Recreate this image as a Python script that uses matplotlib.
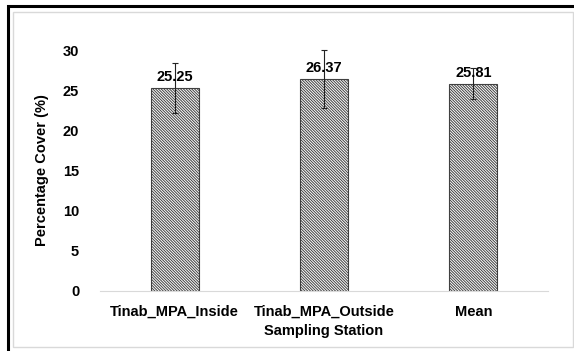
import matplotlib
matplotlib.use('Agg')
import matplotlib.pyplot as plt
from matplotlib.patches import Rectangle
import numpy as np

stations = ['Tinab_MPA_Inside', 'Tinab_MPA_Outside', 'Mean']
cover = [25.25, 26.37, 25.81]
errors = [3.15, 3.6, 1.9]
yticks = [0, 5, 10, 15, 20, 25, 30]

plt.rcParams['font.family'] = 'Liberation Sans'
plt.rcParams['font.weight'] = 'bold'
plt.rcParams['hatch.linewidth'] = 0.7
plt.rcParams['hatch.color'] = '#3a3a3a'

fig = plt.figure(figsize=(5.74, 3.51), dpi=100)

# outer black frame (top and left edges) and inner light border
fig.patches.append(Rectangle((8/574, -0.05), 1.2, 1 - 6/351 + 0.05, transform=fig.transFigure,
                             fill=False, edgecolor='black', linewidth=2.2))
fig.patches.append(Rectangle((13/574, 4/351), 560/574, 1 - 16/351, transform=fig.transFigure,
                             fill=False, edgecolor='#d9d9d9', linewidth=1.0))

ax = fig.add_axes([100/574, 1 - 291/351, 448/574, 241/351])
x = np.arange(len(stations))
bars = ax.bar(x, cover, width=0.32, color='white', edgecolor='#404040',
              linewidth=0.8, hatch='\\' * 12)
ax.errorbar(x, cover, yerr=errors, fmt='none', ecolor='#222222',
            elinewidth=0.8, capsize=2.5, capthick=0.8, clip_on=False)

for xi, v in zip(x, cover):
    ax.text(xi, v + 0.5, '%.2f' % v, ha='center', va='bottom', fontsize=10.5, fontweight='bold')

ax.set_xlim(-0.5, 2.5)
ax.set_ylim(0, 30)
ax.set_yticks(yticks)
ax.set_xticks(x)
ax.set_xticklabels(stations, fontsize=10.5, fontweight='bold')
ax.tick_params(axis='y', length=0, pad=15, labelsize=10.5)
ax.tick_params(axis='x', length=0, pad=10)
for s in ['top', 'right', 'left']:
    ax.spines[s].set_visible(False)
ax.spines['bottom'].set_color('#d9d9d9')
ax.set_xlabel('Sampling Station', fontsize=10.5, fontweight='bold', labelpad=4)
ax.set_ylabel('Percentage Cover (%)', fontsize=10.5, fontweight='bold', labelpad=10)

fig.savefig('out.png', dpi=100)
